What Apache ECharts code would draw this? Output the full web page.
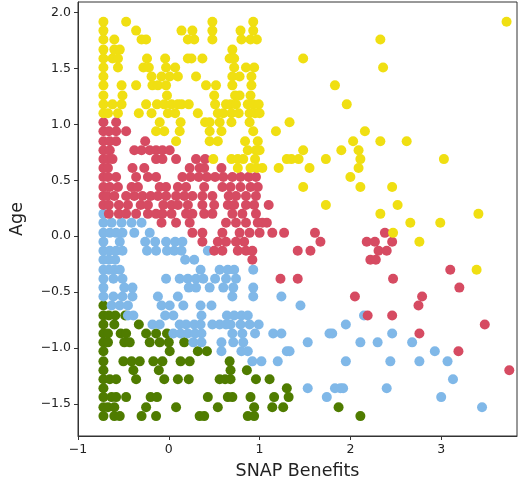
<!DOCTYPE html>
<html><head><meta charset="utf-8">
<script src="https://cdn.jsdelivr.net/npm/echarts@6/dist/echarts.min.js"></script>
<style>html,body{margin:0;padding:0;background:#fff}#c{width:518px;height:485px}</style>
</head><body><div id="c"></div>
<script>
// Each row: [Age value, [SNAP Benefits values]]
const yellowRows = [
  [1.92, [-0.72, -0.47, 0.48, 0.93, 3.72]],
  [1.84, [-0.72, -0.36, 0.14, 0.26, 0.48, 0.79, 0.93]],
  [1.76, [-0.72, -0.60, -0.30, -0.25, 0.21, 0.28, 0.48, 0.80, 0.90, 0.97, 2.33]],
  [1.67, [-0.72, -0.60, -0.54, 0.70]],
  [1.59, [-0.72, -0.62, -0.56, -0.24, -0.04, 0.21, 0.25, 0.37, 0.67, 0.72, 1.48]],
  [1.51, [-0.72, -0.56, -0.28, -0.22, -0.03, 0.07, 0.72, 0.85, 0.94, 2.36]],
  [1.43, [-0.72, -0.19, -0.08, 0.01, 0.10, 0.30, 0.70, 0.78, 0.91]],
  [1.35, [-0.72, -0.52, -0.36, -0.18, -0.12, -0.03, 0.41, 0.52, 0.70, 0.91, 1.83]],
  [1.26, [-0.72, -0.51, -0.02, 0.50, 0.73, 0.78, 0.90]],
  [1.18, [-0.72, -0.62, -0.52, -0.25, -0.13, -0.05, 0.03, 0.10, 0.14, 0.22, 0.51, 0.63, 0.68, 0.74, 0.87, 0.93, 0.99, 1.96]],
  [1.10, [-0.72, -0.67, -0.56, -0.33, -0.19, -0.01, 0.07, 0.32, 0.54, 0.60, 0.69, 0.77, 0.89, 0.95, 1.00]],
  [1.02, [-0.10, 0.13, 0.40, 0.45, 0.56, 0.69, 0.89, 1.33]],
  [0.94, [-0.14, -0.05, 0.12, 0.45, 0.58, 0.93, 1.18, 2.16]],
  [0.85, [0.08, 0.45, 0.54, 0.84, 0.98, 2.03, 2.33, 2.62]],
  [0.77, [0.87, 0.96, 1.00, 1.48, 1.90, 2.09]],
  [0.69, [0.49, 0.69, 0.76, 0.82, 0.95, 1.30, 1.35, 1.43, 1.73, 2.11, 3.03]],
  [0.61, [0.76, 0.90, 0.97, 1.03, 1.21, 1.55, 2.09]],
  [0.53, [2.00]],
  [0.44, [1.48, 2.11, 2.46]],
  [0.28, [1.73, 2.52]],
  [0.20, [2.33, 3.41]],
  [0.12, [2.66, 2.99]],
  [0.03, [2.47]],
  [-0.05, [2.76]],
  [-0.30, [3.39]]
];
const redRows = [
  [1.02, [-0.72, -0.58]],
  [0.94, [-0.72, -0.66, -0.58, -0.47]],
  [0.85, [-0.72, -0.65, -0.58, -0.26]],
  [0.77, [-0.72, -0.65, -0.38, -0.30, -0.21, -0.14, -0.07, 0.01]],
  [0.69, [-0.72, -0.67, -0.62, -0.14, -0.07, 0.08, 0.30, 0.40]],
  [0.61, [-0.72, -0.67, -0.40, -0.27, 0.23, 0.34, 0.39, 0.58]],
  [0.53, [-0.72, -0.67, -0.58, -0.36, -0.23, -0.14, 0.15, 0.24, 0.33, 0.42, 0.51, 0.60, 0.70, 0.79, 0.88, 0.96]],
  [0.44, [-0.72, -0.65, -0.56, -0.41, -0.34, -0.10, -0.03, 0.10, 0.19, 0.39, 0.59, 0.68, 0.79, 0.90, 0.98]],
  [0.36, [-0.72, -0.68, -0.60, -0.47, -0.38, -0.29, -0.20, -0.12, -0.03, 0.08, 0.17, 0.26, 0.37, 0.48, 0.66, 0.74, 0.85, 0.96]],
  [0.28, [-0.72, -0.66, -0.55, -0.45, -0.31, -0.23, -0.06, 0.03, 0.10, 0.21, 0.37, 0.50, 0.65, 0.72, 0.85, 0.94, 1.10]],
  [0.20, [-0.66, -0.55, -0.47, -0.36, -0.23, -0.14, -0.07, 0.03, 0.19, 0.26, 0.39, 0.48, 0.70, 0.81, 0.96]],
  [0.12, [-0.08, 0.08, 0.23, 0.63, 0.74, 0.85, 0.98, 1.03, 1.08]],
  [0.03, [0.26, 0.37, 0.59, 0.78, 0.89, 1.00, 1.14, 1.27, 1.61, 2.38]],
  [-0.05, [0.37, 0.54, 0.63, 0.74, 0.83, 1.67, 2.18, 2.27, 2.46]],
  [-0.13, [0.50, 0.59, 0.76, 0.85, 0.92, 1.42, 1.56, 2.31, 2.40]],
  [-0.21, [0.92, 2.22, 2.28]],
  [-0.30, [3.10]],
  [-0.38, [1.23, 1.42, 2.47]],
  [-0.46, [3.20]],
  [-0.54, [2.05, 2.79]],
  [-0.62, [2.75]],
  [-0.71, [2.19, 2.46]],
  [-0.79, [3.48]],
  [-0.87, [2.76]],
  [-1.03, [3.19]],
  [-1.20, [3.75]]
];
const blueRows = [
  [0.20, [-0.72]],
  [0.12, [-0.72, -0.63, -0.52, -0.41, -0.30]],
  [0.03, [-0.72, -0.65, -0.58, -0.51, -0.38, -0.21]],
  [-0.05, [-0.72, -0.54, -0.26, -0.15, -0.03, 0.07, 0.15]],
  [-0.13, [-0.72, -0.65, -0.58, -0.51, -0.24, -0.14, -0.02, 0.06, 0.14, 0.43]],
  [-0.21, [-0.72, -0.66, -0.59, 0.18, 0.28]],
  [-0.30, [-0.72, -0.66, -0.60, -0.54, 0.35, 0.56, 0.65, 0.72, 0.93]],
  [-0.38, [-0.72, -0.61, -0.51, -0.03, 0.12, 0.21, 0.30, 0.38, 0.51, 0.63, 0.74]],
  [-0.46, [-0.72, -0.49, -0.40, 0.22, 0.30, 0.45, 0.60, 0.71, 0.93]],
  [-0.54, [-0.72, -0.61, -0.51, -0.40, -0.12, 0.10, 0.70, 0.93, 1.24]],
  [-0.62, [-0.63, -0.54, -0.45, -0.08, 0.01, 0.16, 0.35, 0.47, 1.45]],
  [-0.71, [-0.45, -0.39, -0.04, 0.05, 0.36, 0.64, 0.72, 0.80, 0.87, 2.15]],
  [-0.79, [-0.18, -0.10, 0.12, 0.19, 0.28, 0.35, 0.48, 0.56, 0.63, 0.68, 0.79, 0.89, 0.99, 1.95]],
  [-0.87, [0.05, 0.13, 0.21, 0.29, 0.36, 0.70, 0.81, 0.95, 1.15, 1.24, 1.77, 1.80, 2.46]],
  [-0.95, [0.27, 0.36, 0.58, 0.71, 0.82, 1.53, 2.11, 2.30, 2.68]],
  [-1.03, [0.58, 0.80, 0.87, 1.30, 1.33, 2.93]],
  [-1.12, [0.92, 1.02, 1.20, 1.95, 2.44, 2.76, 3.07]],
  [-1.28, [3.13]],
  [-1.36, [1.53, 1.83, 1.89, 1.92, 2.40]],
  [-1.44, [1.74, 3.00]],
  [-1.53, [3.45]]
];
const greenRows = [
  [-0.62, [-0.72]],
  [-0.71, [-0.72, -0.66, -0.59, -0.48]],
  [-0.79, [-0.72, -0.60, -0.33]],
  [-0.87, [-0.72, -0.67, -0.53, -0.47, -0.25, -0.14, -0.02]],
  [-0.95, [-0.72, -0.67, -0.49, -0.43, -0.21, -0.10, 0.00, 0.17]],
  [-1.03, [-0.72, 0.01, 0.32, 0.42]],
  [-1.12, [-0.72, -0.50, -0.41, -0.32, -0.17, -0.07, 0.13, 0.23, 0.67]],
  [-1.20, [-0.72, -0.39, -0.11, 0.68, 0.86]],
  [-1.28, [-0.72, -0.65, -0.58, -0.36, -0.05, 0.10, 0.22, 0.56, 0.62, 0.68, 0.96, 1.11]],
  [-1.36, [-0.72, 1.30]],
  [-1.44, [-0.72, -0.63, -0.58, -0.47, -0.20, -0.13, 0.43, 0.65, 0.70, 0.90, 1.16, 1.32]],
  [-1.53, [-0.72, -0.67, -0.60, -0.25, 0.08, 0.54, 0.94, 1.14, 1.26, 1.87]],
  [-1.61, [-0.72, -0.60, -0.54, -0.30, -0.14, 0.34, 0.39, 0.87, 0.94, 2.11]]
];
const xTicks = [-1, 0, 1, 2, 3];
const yTicks = [-1.5, -1.0, -0.5, 0.0, 0.5, 1.0, 1.5, 2.0];
const xName = 'SNAP Benefits';
const yName = 'Age';

function flatten(rows) {
  const out = [];
  rows.forEach(([y, xs]) => xs.forEach(x => out.push([x, y])));
  return out;
}
const minus = s => String(s).replace('-', '\u2212');
const font = 'DejaVu Sans';
const axisCommon = {
  type: 'value',
  nameLocation: 'middle',
  nameTextStyle: { fontFamily: font, fontSize: 17.5, color: '#222' },
  splitLine: { show: false },
  axisLine: { show: true, onZero: false, lineStyle: { color: '#333', width: 1 } },
};
const chart = echarts.init(document.getElementById('c'));
function sc(rows, color) {
  return {
    type: 'scatter', data: flatten(rows), symbol: 'circle', symbolSize: 10,
    itemStyle: { color: color, opacity: 1 }, emphasis: { disabled: true }, silent: true
  };
}
chart.setOption({
  animation: false,
  backgroundColor: '#fff',
  grid: { left: 77, right: 1, top: 2, bottom: 48, show: true, borderColor: '#333', borderWidth: 1 },
  xAxis: Object.assign({}, axisCommon, {
    min: -1, max: 3.835, name: xName, nameGap: 26,
    axisTick: { show: true, length: 4, customValues: xTicks, lineStyle: { color: '#333' } },
    axisLabel: { customValues: xTicks, formatter: v => minus(v), fontFamily: font, fontSize: 12.5, color: '#222', margin: 7 }
  }),
  yAxis: Object.assign({}, axisCommon, {
    min: -1.788, max: 2.096, name: yName, nameGap: 52,
    axisTick: { show: true, length: 4, customValues: yTicks, lineStyle: { color: '#333' } },
    axisLabel: { customValues: yTicks, formatter: v => minus(Number(v).toFixed(1)), fontFamily: font, fontSize: 12.5, color: '#222', margin: 7 }
  }),
  series: [
    sc(greenRows, '#4f7c00'),
    sc(blueRows, '#80b8e8'),
    sc(redRows, '#d64b62'),
    sc(yellowRows, '#f0df12')
  ]
});
</script>
</body></html>
